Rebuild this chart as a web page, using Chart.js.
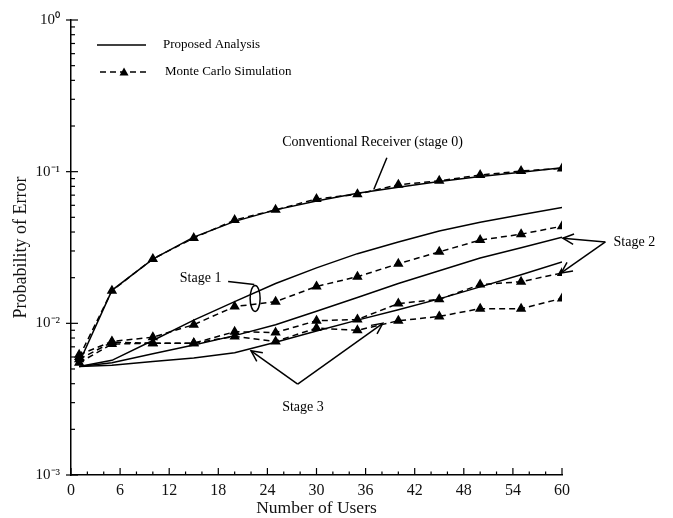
<!DOCTYPE html>
<html><head><meta charset="utf-8">
<script src="https://cdn.jsdelivr.net/npm/chart.js@4.4.1/dist/chart.umd.min.js"></script>
<style>html,body{margin:0;padding:0;background:#fff;}#wrap{width:673px;height:518px;}</style>
</head><body><div id="wrap"><canvas id="c" width="673" height="518"></canvas></div>
<script>
// ---- data ----
const users = [1, 5, 10, 15, 20, 25, 30, 35, 40, 45, 50, 55, 60];
const conventionalAnalysis = [0.0055, 0.0165, 0.0265, 0.037, 0.047, 0.056, 0.064, 0.072, 0.079, 0.086, 0.093, 0.099, 0.106];
const conventionalMC       = [0.0060, 0.0164, 0.0266, 0.0365, 0.048, 0.056, 0.066, 0.071, 0.082, 0.087, 0.095, 0.101, 0.105];
const stage1Analysis = [0.0052, 0.0057, 0.0077, 0.0105, 0.0139, 0.0183, 0.0232, 0.0288, 0.0344, 0.0406, 0.0464, 0.052, 0.058];
const stage1MC       = [0.0062, 0.0076, 0.0081, 0.0098, 0.0129, 0.0139, 0.0175, 0.0203, 0.0247, 0.0296, 0.0354, 0.0387, 0.0437];
const stage2Analysis = [0.0052, 0.0055, 0.0063, 0.0072, 0.0083, 0.0098, 0.0120, 0.0148, 0.0183, 0.0222, 0.027, 0.0315, 0.037];
const stage2MC       = [0.0058, 0.0075, 0.0074, 0.0074, 0.0088, 0.0087, 0.0104, 0.0106, 0.0135, 0.0144, 0.0180, 0.0188, 0.0215];
const stage3Analysis = [0.0052, 0.0053, 0.0056, 0.0059, 0.0064, 0.0075, 0.0089, 0.0105, 0.0123, 0.0145, 0.0174, 0.0209, 0.0254];
const stage3MC       = [0.0055, 0.0073, 0.0074, 0.0074, 0.0082, 0.0076, 0.0093, 0.0090, 0.0104, 0.0111, 0.0125, 0.0125, 0.0146];
const xTickValues = [0, 6, 12, 18, 24, 30, 36, 42, 48, 54, 60];
const yTickValues = [0.001, 0.01, 0.1, 1];
const yTickLabels = ['10\u207B\u00B3', '10\u207B\u00B2', '10\u207B\u00B9', '10\u2070'];
const legendLabels = ['Proposed Analysis', 'Monte Carlo Simulation'];
// annotation texts, anchored in data units (users, probability)
const notes = [
  {text: 'Conventional Receiver (stage 0)', x: 25.8, y: 0.157},
  {text: 'Stage 1', x: 13.3, y: 0.0197},
  {text: 'Stage 2', x: 66.3, y: 0.0344},
  {text: 'Stage 3', x: 25.8, y: 0.00278}
];

const FONT = "'Liberation Serif', 'Times New Roman', serif";
const pts = arr => users.map((u, i) => ({x: u, y: arr[i]}));
const solid = (label, arr) => ({label, data: pts(arr), borderColor: '#000', borderWidth: 1.5, pointRadius: 0, fill: false});
const dashed = (label, arr) => ({label, data: pts(arr), borderColor: '#000', backgroundColor: '#000', borderWidth: 1.5,
  borderDash: [6, 4], pointStyle: 'triangle', pointRadius: 4.5, pointBackgroundColor: '#000', pointBorderColor: '#000', fill: false});

function arrow(ctx, x1, y1, x2, y2) {
  ctx.beginPath(); ctx.moveTo(x1, y1); ctx.lineTo(x2, y2); ctx.stroke();
  const a = Math.atan2(y2 - y1, x2 - x1), L = 12, w = 0.45;
  ctx.beginPath();
  ctx.moveTo(x2 - L * Math.cos(a - w), y2 - L * Math.sin(a - w));
  ctx.lineTo(x2, y2);
  ctx.lineTo(x2 - L * Math.cos(a + w), y2 - L * Math.sin(a + w));
  ctx.stroke();
}

const decor = {
  id: 'decor',
  afterDraw(chart) {
    const ctx = chart.ctx, xs = chart.scales.x, ys = chart.scales.y, a = chart.chartArea;
    const X = v => xs.getPixelForValue(v), Y = v => ys.getPixelForValue(v);
    ctx.save();
    ctx.strokeStyle = '#000'; ctx.fillStyle = '#000'; ctx.lineWidth = 1.2;
    // inward ticks x
    for (let v = 0; v <= 60; v += 2) {
      const px = X(v), len = v % 6 === 0 ? 7 : 3.5;
      ctx.beginPath(); ctx.moveTo(px, a.bottom); ctx.lineTo(px, a.bottom - len); ctx.stroke();
    }
    // inward ticks y (log)
    for (let e = -3; e <= 0; e++) {
      for (let m = 1; m < 10; m++) {
        if (e === 0 && m > 1) break;
        const py = Y(m * Math.pow(10, e));
        ctx.beginPath();
        if (m === 1) { ctx.moveTo(a.left - 5, py); ctx.lineTo(a.left + 7, py); }
        else { ctx.moveTo(a.left, py); ctx.lineTo(a.left + 4, py); }
        ctx.stroke();
      }
    }
    // legend
    ctx.lineWidth = 1.5;
    ctx.font = '13px ' + FONT; ctx.textBaseline = 'middle'; ctx.textAlign = 'left';
    ctx.beginPath(); ctx.moveTo(97, 45); ctx.lineTo(146, 45); ctx.stroke();
    ctx.fillText(legendLabels[0], 163, 45);
    ctx.setLineDash([6, 4]);
    ctx.beginPath(); ctx.moveTo(100, 72); ctx.lineTo(146, 72); ctx.stroke();
    ctx.setLineDash([]);
    ctx.beginPath(); ctx.moveTo(124, 67.5); ctx.lineTo(128.5, 75.5); ctx.lineTo(119.5, 75.5); ctx.closePath(); ctx.fill();
    ctx.fillText(legendLabels[1], 165, 72);
    // notes
    ctx.font = '14px ' + FONT;
    notes.forEach(n => ctx.fillText(n.text, X(n.x), Y(n.y)));
    ctx.lineWidth = 1.5;
    // conventional leader
    ctx.beginPath(); ctx.moveTo(X(38.6), Y(0.1235)); ctx.lineTo(X(37.0), Y(0.0762)); ctx.stroke();
    // stage 1 leader + ellipse
    ctx.beginPath(); ctx.moveTo(X(19.2), Y(0.0189)); ctx.lineTo(X(22.4), Y(0.0180)); ctx.stroke();
    ctx.beginPath(); ctx.ellipse(X(22.5), Y(0.0146), 5, 13, 0, 0, Math.PI * 2); ctx.stroke();
    // stage 2 arrows
    arrow(ctx, X(65.3), Y(0.0344), X(60.1), Y(0.0364));
    arrow(ctx, X(65.3), Y(0.0344), X(59.9), Y(0.0215));
    // stage 3 arrows
    arrow(ctx, X(27.7), Y(0.00397), X(22.0), Y(0.00659));
    arrow(ctx, X(27.7), Y(0.00397), X(38.1), Y(0.0100));
    ctx.restore();
  }
};

new Chart(document.getElementById('c'), {
  type: 'line',
  data: {
    datasets: [
      solid('Conventional analysis', conventionalAnalysis),
      dashed('Conventional MC', conventionalMC),
      solid('Stage 1 analysis', stage1Analysis),
      dashed('Stage 1 MC', stage1MC),
      solid('Stage 2 analysis', stage2Analysis),
      dashed('Stage 2 MC', stage2MC),
      solid('Stage 3 analysis', stage3Analysis),
      dashed('Stage 3 MC', stage3MC)
    ]
  },
  options: {
    responsive: false, animation: false, devicePixelRatio: 1,
    layout: {padding: {top: 16, right: 111, left: 0, bottom: 0}},
    plugins: {legend: {display: false}, tooltip: {enabled: false}},
    scales: {
      x: {
        type: 'linear', min: 0, max: 60,
        afterBuildTicks: s => { s.ticks = xTickValues.map(v => ({value: v})); },
        afterFit: s => { s.height = 43; },
        grid: {display: false, drawTicks: false},
        border: {display: true, color: '#000', width: 1.5},
        ticks: {color: '#111', font: {family: FONT, size: 16}, padding: 6, maxRotation: 0, autoSkip: false},
        title: {display: true, text: 'Number of Users', color: '#111', font: {family: FONT, size: 17.5}, padding: {top: 0, bottom: -1}}
      },
      y: {
        type: 'logarithmic', min: 0.001, max: 1,
        afterBuildTicks: s => { s.ticks = yTickValues.map(v => ({value: v})); },
        afterFit: s => { s.width = 71; },
        grid: {display: false, drawTicks: false},
        border: {display: true, color: '#000', width: 1.5},
        ticks: {color: '#111', font: {family: FONT, size: 15}, padding: 11,
          callback: v => { const i = yTickValues.indexOf(v); return i >= 0 ? yTickLabels[i] : ''; }},
        title: {display: true, text: 'Probability of Error', color: '#111', font: {family: FONT, size: 18}, padding: {top: 10, bottom: 0}}
      }
    }
  },
  plugins: [decor]
});
</script></body></html>
